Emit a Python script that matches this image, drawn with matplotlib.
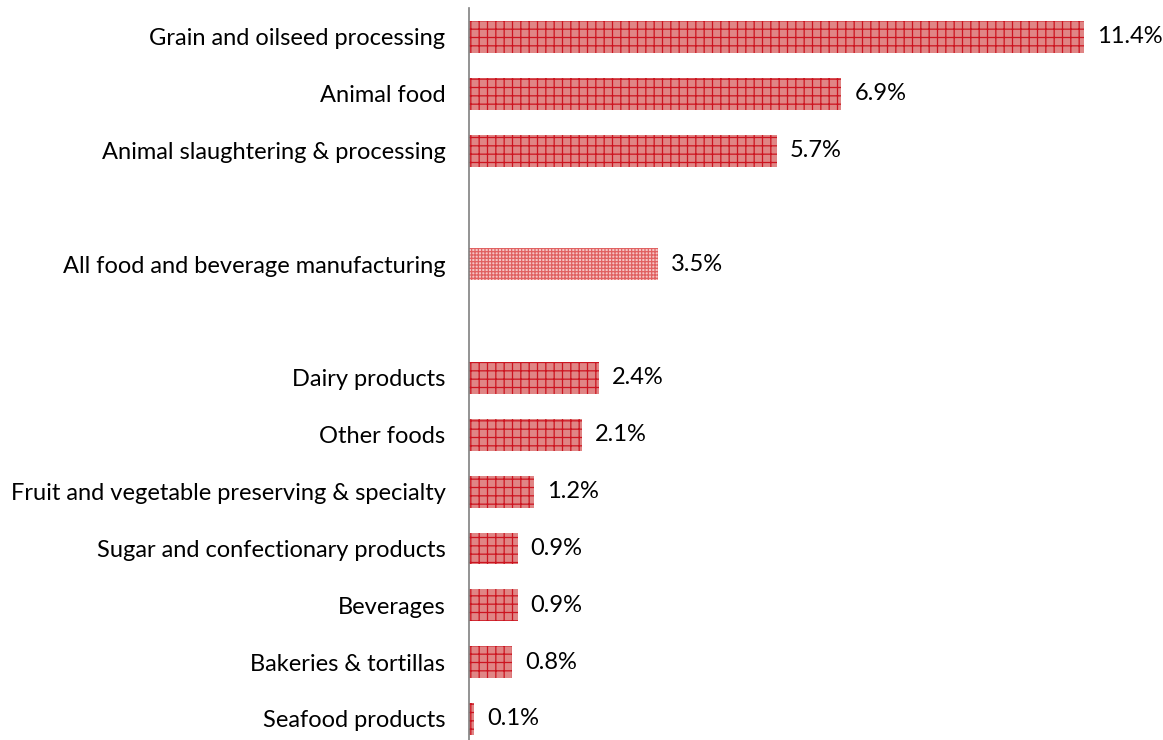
import matplotlib.pyplot as plt

plt.rcParams['font.family'] = ['Lato', 'DejaVu Sans']
plt.rcParams['hatch.linewidth'] = 0.9

categories = ["Grain and oilseed processing", "Animal food", "Animal slaughtering & processing",
              "", "All food and beverage manufacturing", "",
              "Dairy products", "Other foods", "Fruit and vegetable preserving & specialty",
              "Sugar and confectionary products", "Beverages", "Bakeries & tortillas",
              "Seafood products"]
values = [11.4, 6.9, 5.7, None, 3.5, None, 2.4, 2.1, 1.2, 0.9, 0.9, 0.8, 0.1]
value_labels = ["11.4%", "6.9%", "5.7%", "", "3.5%", "", "2.4%", "2.1%", "1.2%",
                "0.9%", "0.9%", "0.8%", "0.1%"]

fig = plt.figure(figsize=(11.63, 7.40), dpi=100)
ax = fig.add_axes([469 / 1163, 0.0, 1 - 469 / 1163, 1 - 8 / 740])

for i, (v, lab) in enumerate(zip(values, value_labels)):
    if v is None:
        continue
    if categories[i].startswith("All food"):
        ax.barh(i, v, height=0.56, color='#f6c4c4', edgecolor='#e06060',
                hatch='+++++', linewidth=0)
    else:
        ax.barh(i, v, height=0.56, color='#e08585', edgecolor='#cc1420',
                hatch='++', linewidth=0)
    ax.text(v + 0.24, i, lab, va='center', ha='left', fontsize=17, color='black')

ax.set_yticks(range(len(categories)))
ax.set_yticklabels(categories, fontsize=17)
ax.tick_params(axis='y', length=0, pad=17)
ax.set_xticks([])
ax.set_xlim(0, 12.86)
ax.set_ylim(12.37, -0.51)
for s in ['top', 'right', 'bottom']:
    ax.spines[s].set_visible(False)
ax.spines['left'].set_color('#808080')
ax.spines['left'].set_linewidth(1.2)

plt.savefig('out.png')
